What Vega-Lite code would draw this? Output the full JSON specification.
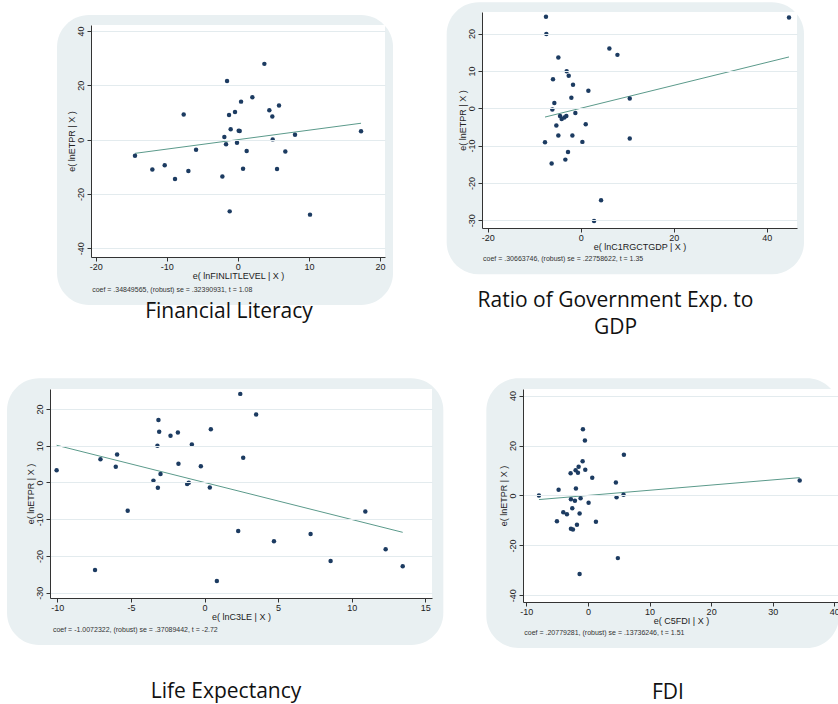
{
"$schema": "https://vega.github.io/schema/vega-lite/v6.json",
"background": "white",
"padding": {"left": 7, "top": 2, "right": 0, "bottom": 0},
"config": {
 "view": {"stroke": null},
 "axis": {"domainColor": "#333", "tickColor": "#333", "tickSize": 4, "labelFont": "Liberation Sans", "labelFontSize": 9, "labelColor": "#222", "titleFont": "Liberation Sans", "titleFontSize": 9, "titleFontWeight": "normal", "titleColor": "#222", "labelFlush": false, "labelOverlap": false, "labelExpr": "'' + datum.value"},
 "axisX": {"grid": false, "titlePadding": 0, "labelPadding": 1},
 "axisY": {"grid": true, "gridColor": "#e3ebee", "labelAngle": -90, "titlePadding": 0, "labelPadding": 2},
 "title": {"font": "Open Sans", "fontSize": 21, "fontWeight": "normal", "color": "#111", "anchor": "middle"}
},
"datasets": {
 "p1": [{"x":-14.47,"y":-5.9},{"x":-12.03,"y":-11.0},{"x":-10.29,"y":-9.4},{"x":-8.84,"y":-14.5},{"x":-6.96,"y":-11.5},{"x":-7.62,"y":9.3},{"x":-5.88,"y":-3.7},{"x":-2.18,"y":-13.6},{"x":-1.9,"y":1.0},{"x":-1.66,"y":-1.7},{"x":-1.52,"y":21.6},{"x":-1.24,"y":9.1},{"x":-1.01,"y":3.8},{"x":-1.15,"y":-26.4},{"x":-0.4,"y":10.2},{"x":-0.12,"y":-1.1},{"x":0.12,"y":3.3},{"x":0.26,"y":3.2},{"x":0.45,"y":14.0},{"x":0.73,"y":-10.7},{"x":1.24,"y":-4.2},{"x":2.04,"y":15.6},{"x":3.73,"y":27.9},{"x":4.43,"y":10.8},{"x":4.85,"y":8.5},{"x":4.9,"y":0.1},{"x":5.51,"y":-10.8},{"x":5.79,"y":12.6},{"x":6.68,"y":-4.4},{"x":8.04,"y":1.8},{"x":10.15,"y":-27.6},{"x":17.33,"y":3.1}],
 "p2": [{"x":-7.47,"y":24.5},{"x":-7.39,"y":19.9},{"x":-4.81,"y":13.6},{"x":6.17,"y":16.0},{"x":7.9,"y":14.3},{"x":44.8,"y":24.3},{"x":-3.02,"y":9.9},{"x":-2.58,"y":8.7},{"x":-5.96,"y":7.8},{"x":-1.65,"y":6.3},{"x":1.65,"y":4.7},{"x":-2.01,"y":2.8},{"x":-5.67,"y":1.4},{"x":10.55,"y":2.6},{"x":-6.1,"y":-0.3},{"x":-1.15,"y":-1.25},{"x":-4.45,"y":-2.05},{"x":-4.09,"y":-2.9},{"x":-3.52,"y":-2.5},{"x":-3.09,"y":-2.05},{"x":-5.24,"y":-4.6},{"x":1.08,"y":-4.3},{"x":-4.81,"y":-7.3},{"x":-1.79,"y":-7.3},{"x":10.55,"y":-8.1},{"x":-7.68,"y":-9.1},{"x":0.36,"y":-9.0},{"x":-2.73,"y":-11.7},{"x":-6.25,"y":-14.8},{"x":-3.3,"y":-13.75},{"x":4.38,"y":-24.6},{"x":2.87,"y":-30.2}],
 "p3": [{"x":-10.05,"y":3.3},{"x":-7.07,"y":6.3},{"x":-7.44,"y":-23.8},{"x":-5.94,"y":7.6},{"x":-6.03,"y":4.3},{"x":-5.22,"y":-7.7},{"x":-3.47,"y":0.5},{"x":-3.17,"y":-1.45},{"x":-2.99,"y":2.3},{"x":-3.2,"y":10.0},{"x":-3.08,"y":13.8},{"x":-3.13,"y":17.0},{"x":-2.31,"y":12.7},{"x":-1.81,"y":13.6},{"x":-1.77,"y":5.1},{"x":-1.18,"y":-0.4},{"x":-1.07,"y":-0.1},{"x":-0.86,"y":10.3},{"x":-0.25,"y":4.4},{"x":0.36,"y":-1.4},{"x":0.43,"y":14.5},{"x":0.84,"y":-26.8},{"x":2.29,"y":-13.2},{"x":2.43,"y":24.1},{"x":2.63,"y":6.7},{"x":3.51,"y":18.5},{"x":4.72,"y":-16.0},{"x":7.21,"y":-14.0},{"x":8.57,"y":-21.4},{"x":10.93,"y":-7.9},{"x":12.31,"y":-18.2},{"x":13.47,"y":-22.8}],
 "p4": [{"x":-7.95,"y":0.0},{"x":-4.76,"y":2.3},{"x":-5.03,"y":-10.3},{"x":-4.0,"y":-6.7},{"x":-3.41,"y":-7.5},{"x":-2.81,"y":8.9},{"x":-2.76,"y":-1.5},{"x":-2.54,"y":-5.1},{"x":-2.76,"y":-13.3},{"x":-2.43,"y":-13.6},{"x":-2.11,"y":-2.1},{"x":-1.95,"y":2.8},{"x":-2.0,"y":10.1},{"x":-1.62,"y":9.1},{"x":-1.78,"y":-11.7},{"x":-1.51,"y":11.5},{"x":-1.35,"y":-7.2},{"x":-1.19,"y":-1.1},{"x":-0.86,"y":13.7},{"x":-0.81,"y":26.5},{"x":-0.49,"y":22.0},{"x":-0.43,"y":10.3},{"x":-1.35,"y":-31.5},{"x":0.11,"y":-2.9},{"x":0.7,"y":7.1},{"x":1.3,"y":-10.5},{"x":4.54,"y":5.2},{"x":4.65,"y":-0.7},{"x":4.86,"y":-25.1},{"x":5.84,"y":16.3},{"x":5.78,"y":0.3},{"x":34.38,"y":6.0}],
 "f1": [{"x":-14.47,"y":-5.04},{"x":17.33,"y":6.04}],
 "f2": [{"x":-7.68,"y":-2.35},{"x":44.8,"y":13.74}],
 "f3": [{"x":-10.05,"y":10.12},{"x":13.47,"y":-13.57}],
 "f4": [{"x":-7.95,"y":-1.65},{"x":34.38,"y":7.14}]
},
"spacing": 39,
"vconcat": [
 {"spacing": 6, "hconcat": [
  {"width": 1, "height": 1, "data": {"values": []}, "mark": "point"},
  {"spacing": 0, "vconcat": [
   {"width": 1, "height": 3, "data": {"values": []}, "mark": "point"},
   {"width": 294, "height": 232,
    "title": {"text": "Financial Literacy", "orient": "bottom", "dx": -9, "offset": -4},
    "layer": [
     {"data": {"values": [{}]}, "mark": {"type": "rect", "opacity": 0},
      "encoding": {"x": {"datum": -20.66, "type": "quantitative", "scale": {"domain": [-20.66, 20.7], "nice": false, "zero": false}}, "x2": {"datum": 28.3},
       "y": {"datum": 1, "type": "quantitative", "scale": {"domain": [-43.2, 42.21], "nice": false, "zero": false}}, "y2": {"datum": 0}}},
     {"data": {"values": [{}]}, "mark": {"type": "rect", "color": "#e9f0f2", "cornerRadius": 32},
      "encoding": {"x": {"datum": -25.44, "type": "quantitative", "scale": {"domain": [-20.66, 20.7], "nice": false, "zero": false}}, "x2": {"datum": 21.83},
       "y": {"datum": 45.89, "type": "quantitative", "scale": {"domain": [-43.2, 42.21], "nice": false, "zero": false}}, "y2": {"datum": -60.87}}},
     {"data": {"values": [{}]}, "mark": {"type": "rect", "color": "white"},
      "encoding": {"x": {"datum": -20.66, "type": "quantitative", "scale": {"domain": [-20.66, 20.7], "nice": false, "zero": false}}, "x2": {"datum": 20.7},
       "y": {"datum": 42.21, "type": "quantitative", "scale": {"domain": [-43.2, 42.21], "nice": false, "zero": false}}, "y2": {"datum": -43.2}}},
     {"data": {"name": "f1"}, "mark": {"type": "line", "color": "#5b9a8b", "strokeWidth": 1},
      "encoding": {"x": {"field": "x", "type": "quantitative", "scale": {"domain": [-20.66, 20.7], "nice": false, "zero": false}},
       "y": {"field": "y", "type": "quantitative", "scale": {"domain": [-43.2, 42.21], "nice": false, "zero": false}}}},
     {"data": {"name": "p1"}, "mark": {"type": "circle", "size": 20, "color": "#1c3b61", "opacity": 1},
      "encoding": {"x": {"field": "x", "type": "quantitative", "scale": {"domain": [-20.66, 20.7], "nice": false, "zero": false}, "axis": {"zindex": 1, "values": [-20, -10, 0, 10, 20], "title": "e( lnFINLITLEVEL | X )"}},
       "y": {"field": "y", "type": "quantitative", "scale": {"domain": [-43.2, 42.21], "nice": false, "zero": false}, "axis": {"zindex": 1, "values": [-40, -20, 0, 20, 40], "title": "e( lnETPR | X )"}}}},
     {"data": {"values": [{"note": "coef = .34849565, (robust) se = .32390931, t = 1.08"}]}, "mark": {"type": "text", "align": "left", "baseline": "middle", "font": "Liberation Sans", "fontSize": 7, "color": "#333"},
      "encoding": {"x": {"datum": -20.5, "type": "quantitative", "scale": {"domain": [-20.66, 20.7], "nice": false, "zero": false}},
       "y": {"datum": -55.35, "type": "quantitative", "scale": {"domain": [-43.2, 42.21], "nice": false, "zero": false}}, "text": {"field": "note"}}}
    ]}
  ]},
  {"width": 315, "height": 216,
   "title": {"text": ["Ratio of Government Exp. to", "GDP"], "orient": "bottom", "dx": -24, "offset": 16, "lineHeight": 27},
   "layer": [
    {"data": {"values": [{}]}, "mark": {"type": "rect", "color": "#e9f0f2", "cornerRadius": 32},
     "encoding": {"x": {"datum": -28.83, "type": "quantitative", "scale": {"domain": [-21.23, 46.52], "nice": false, "zero": false}}, "x2": {"datum": 48.03},
      "y": {"datum": 28.38, "type": "quantitative", "scale": {"domain": [-32.06, 25.78], "nice": false, "zero": false}}, "y2": {"datum": -44.46}}},
    {"data": {"values": [{}]}, "mark": {"type": "rect", "color": "white"},
     "encoding": {"x": {"datum": -21.23, "type": "quantitative", "scale": {"domain": [-21.23, 46.52], "nice": false, "zero": false}}, "x2": {"datum": 46.52},
      "y": {"datum": 25.78, "type": "quantitative", "scale": {"domain": [-32.06, 25.78], "nice": false, "zero": false}}, "y2": {"datum": -32.06}}},
    {"data": {"name": "f2"}, "mark": {"type": "line", "color": "#5b9a8b", "strokeWidth": 1},
     "encoding": {"x": {"field": "x", "type": "quantitative", "scale": {"domain": [-21.23, 46.52], "nice": false, "zero": false}},
      "y": {"field": "y", "type": "quantitative", "scale": {"domain": [-32.06, 25.78], "nice": false, "zero": false}}}},
    {"data": {"name": "p2"}, "mark": {"type": "circle", "size": 20, "color": "#1c3b61", "opacity": 1},
     "encoding": {"x": {"field": "x", "type": "quantitative", "scale": {"domain": [-21.23, 46.52], "nice": false, "zero": false}, "axis": {"zindex": 1, "values": [-20, 0, 20, 40], "title": "e( lnC1RGCTGDP | X )"}},
      "y": {"field": "y", "type": "quantitative", "scale": {"domain": [-32.06, 25.78], "nice": false, "zero": false}, "axis": {"zindex": 1, "values": [-30, -20, -10, 0, 10, 20], "title": "e( lnETPR | X )"}}}},
    {"data": {"values": [{"note": "coef = .30663746, (robust) se = .22758622, t = 1.35"}]}, "mark": {"type": "text", "align": "left", "baseline": "middle", "font": "Liberation Sans", "fontSize": 7, "color": "#333"},
     "encoding": {"x": {"datum": -21.0, "type": "quantitative", "scale": {"domain": [-21.23, 46.52], "nice": false, "zero": false}},
      "y": {"datum": -40.44, "type": "quantitative", "scale": {"domain": [-32.06, 25.78], "nice": false, "zero": false}}, "text": {"field": "note"}}}
   ]}
 ]},
 {"spacing": 42, "hconcat": [
  {"width": 382, "height": 209,
   "title": {"text": "Life Expectancy", "orient": "bottom", "dx": -15, "offset": 36},
   "layer": [
    {"data": {"values": [{}]}, "mark": {"type": "rect", "color": "#e9f0f2", "cornerRadius": 32},
     "encoding": {"x": {"datum": -13.42, "type": "quantitative", "scale": {"domain": [-10.5, 15.46], "nice": false, "zero": false}}, "x2": {"datum": 16.23},
      "y": {"datum": 28.34, "type": "quantitative", "scale": {"domain": [-31.44, 25.43], "nice": false, "zero": false}}, "y2": {"datum": -44.21}}},
    {"data": {"values": [{}]}, "mark": {"type": "rect", "color": "white"},
     "encoding": {"x": {"datum": -10.5, "type": "quantitative", "scale": {"domain": [-10.5, 15.46], "nice": false, "zero": false}}, "x2": {"datum": 15.46},
      "y": {"datum": 25.43, "type": "quantitative", "scale": {"domain": [-31.44, 25.43], "nice": false, "zero": false}}, "y2": {"datum": -31.44}}},
    {"data": {"name": "f3"}, "mark": {"type": "line", "color": "#5b9a8b", "strokeWidth": 1},
     "encoding": {"x": {"field": "x", "type": "quantitative", "scale": {"domain": [-10.5, 15.46], "nice": false, "zero": false}},
      "y": {"field": "y", "type": "quantitative", "scale": {"domain": [-31.44, 25.43], "nice": false, "zero": false}}}},
    {"data": {"name": "p3"}, "mark": {"type": "circle", "size": 20, "color": "#1c3b61", "opacity": 1},
     "encoding": {"x": {"field": "x", "type": "quantitative", "scale": {"domain": [-10.5, 15.46], "nice": false, "zero": false}, "axis": {"zindex": 1, "values": [-10, -5, 0, 5, 10, 15], "title": "e( lnC3LE | X )"}},
      "y": {"field": "y", "type": "quantitative", "scale": {"domain": [-31.44, 25.43], "nice": false, "zero": false}, "axis": {"zindex": 1, "values": [-30, -20, -10, 0, 10, 20], "title": "e( lnETPR | X )"}}}},
    {"data": {"values": [{"note": "coef = -1.0072322, (robust) se = .37089442, t = -2.72"}]}, "mark": {"type": "text", "align": "left", "baseline": "middle", "font": "Liberation Sans", "fontSize": 7, "color": "#333"},
     "encoding": {"x": {"datum": -10.3, "type": "quantitative", "scale": {"domain": [-10.5, 15.46], "nice": false, "zero": false}},
      "y": {"datum": -40.14, "type": "quantitative", "scale": {"domain": [-31.44, 25.43], "nice": false, "zero": false}}, "text": {"field": "note"}}}
   ]},
  {"width": 316, "height": 213,
   "title": {"text": "FDI", "orient": "bottom", "dx": -13, "offset": 34},
   "layer": [
    {"data": {"values": [{}]}, "mark": {"type": "rect", "color": "#e9f0f2", "cornerRadius": 32},
     "encoding": {"x": {"datum": -16.49, "type": "quantitative", "scale": {"domain": [-10.54, 40.76], "nice": false, "zero": false}}, "x2": {"datum": 40.76},
      "y": {"datum": 46.92, "type": "quantitative", "scale": {"domain": [-42.68, 42.64], "nice": false, "zero": false}}, "y2": {"datum": -61.08}}},
    {"data": {"values": [{}]}, "mark": {"type": "rect", "color": "white"},
     "encoding": {"x": {"datum": -10.54, "type": "quantitative", "scale": {"domain": [-10.54, 40.76], "nice": false, "zero": false}}, "x2": {"datum": 40.76},
      "y": {"datum": 42.64, "type": "quantitative", "scale": {"domain": [-42.68, 42.64], "nice": false, "zero": false}}, "y2": {"datum": -42.68}}},
    {"data": {"name": "f4"}, "mark": {"type": "line", "color": "#5b9a8b", "strokeWidth": 1},
     "encoding": {"x": {"field": "x", "type": "quantitative", "scale": {"domain": [-10.54, 40.76], "nice": false, "zero": false}},
      "y": {"field": "y", "type": "quantitative", "scale": {"domain": [-42.68, 42.64], "nice": false, "zero": false}}}},
    {"data": {"name": "p4"}, "mark": {"type": "circle", "size": 20, "color": "#1c3b61", "opacity": 1},
     "encoding": {"x": {"field": "x", "type": "quantitative", "scale": {"domain": [-10.54, 40.76], "nice": false, "zero": false}, "axis": {"zindex": 1, "values": [-10, 0, 10, 20, 30, 40], "title": "e( C5FDI | X )"}},
      "y": {"field": "y", "type": "quantitative", "scale": {"domain": [-42.68, 42.64], "nice": false, "zero": false}, "axis": {"zindex": 1, "values": [-40, -20, 0, 20, 40], "title": "e( lnETPR | X )"}}}},
    {"data": {"values": [{"note": "coef = .20779281, (robust) se = .13736246, t = 1.51"}]}, "mark": {"type": "text", "align": "left", "baseline": "middle", "font": "Liberation Sans", "fontSize": 7, "color": "#333"},
     "encoding": {"x": {"datum": -10.33, "type": "quantitative", "scale": {"domain": [-10.54, 40.76], "nice": false, "zero": false}},
      "y": {"datum": -55.08, "type": "quantitative", "scale": {"domain": [-42.68, 42.64], "nice": false, "zero": false}}, "text": {"field": "note"}}}
   ]}
 ]}
]
}
